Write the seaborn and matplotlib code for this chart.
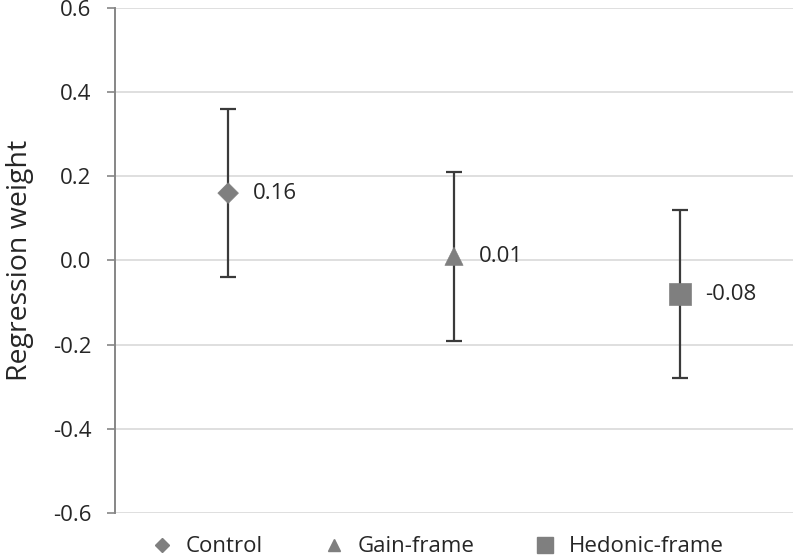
import matplotlib
matplotlib.use("Agg")
import matplotlib.pyplot as plt
import seaborn as sns
import pandas as pd
from matplotlib.lines import Line2D

groups = ["Control", "Gain-frame", "Hedonic-frame"]
weights = [0.16, 0.01, -0.08]
ci_lower = [-0.04, -0.19, -0.28]
ci_upper = [0.36, 0.21, 0.12]
labels = ["0.16", "0.01", "-0.08"]
yticks = [-0.6, -0.4, -0.2, 0.0, 0.2, 0.4, 0.6]

sns.set_theme(style="white")
plt.rcParams["font.family"] = ["Open Sans", "DejaVu Sans"]

df = pd.DataFrame({"group": groups, "weight": weights,
                   "lo": ci_lower, "hi": ci_upper, "label": labels})
df["x"] = range(len(df))

fig = plt.figure(figsize=(8, 5.59), dpi=100)
ax = fig.add_axes([0.144, 0.082, 0.847, 0.904])

for yv in yticks:
    ax.axhline(yv, color="#d9d9d9", lw=1.2, zorder=0)

ax.errorbar(df["x"], df["weight"],
            yerr=[df["weight"] - df["lo"], df["hi"] - df["weight"]],
            fmt="none", ecolor="#3a3a3a", elinewidth=1.6, capsize=6,
            capthick=1.6, zorder=2)

sns.scatterplot(data=df, x="x", y="weight", style="group", hue="group",
                markers={"Control": "D", "Gain-frame": "^", "Hedonic-frame": "s"},
                palette={"Control": "#7f7f7f", "Gain-frame": "#7f7f7f", "Hedonic-frame": "#7f7f7f"},
                ax=ax, legend=False, zorder=3)
ax.collections[-1].set_sizes([110, 170, 260])
ax.collections[-1].set_edgecolor("#7f7f7f")

for _, r in df.iterrows():
    ax.annotate(r["label"], (r["x"], r["weight"]), xytext=(18, 0),
                textcoords="offset points", va="center", ha="left",
                fontsize=16, color="#262626")

ax.set_xlim(-0.5, 2.5)
ax.set_ylim(-0.6, 0.6)
ax.set_yticks(yticks)
ax.set_yticklabels([f"{v:.1f}" for v in yticks], fontsize=16, color="#262626")
ax.set_xticks([])
ax.set_xlabel("")
ax.set_ylabel("Regression weight", fontsize=20.5, color="#262626", labelpad=14)
ax.tick_params(axis="y", length=6, width=1.2, color="#868686", left=True, pad=11)
for s in ["top", "right", "bottom"]:
    ax.spines[s].set_visible(False)
ax.spines["left"].set_color("#868686")
ax.spines["left"].set_linewidth(1.4)

handles = [Line2D([], [], ls="none", marker=m, color="#7f7f7f", markersize=ms)
           for m, ms in zip(["D", "^", "s"], [7, 9, 11])]
fig.legend(handles, groups, loc="lower left", bbox_to_anchor=(0.164, -0.033),
           ncol=3, frameon=False, fontsize=16, columnspacing=2.67,
           handletextpad=0.57, handlelength=1.0, labelcolor="#262626")

fig.savefig("out.png", dpi=100)
